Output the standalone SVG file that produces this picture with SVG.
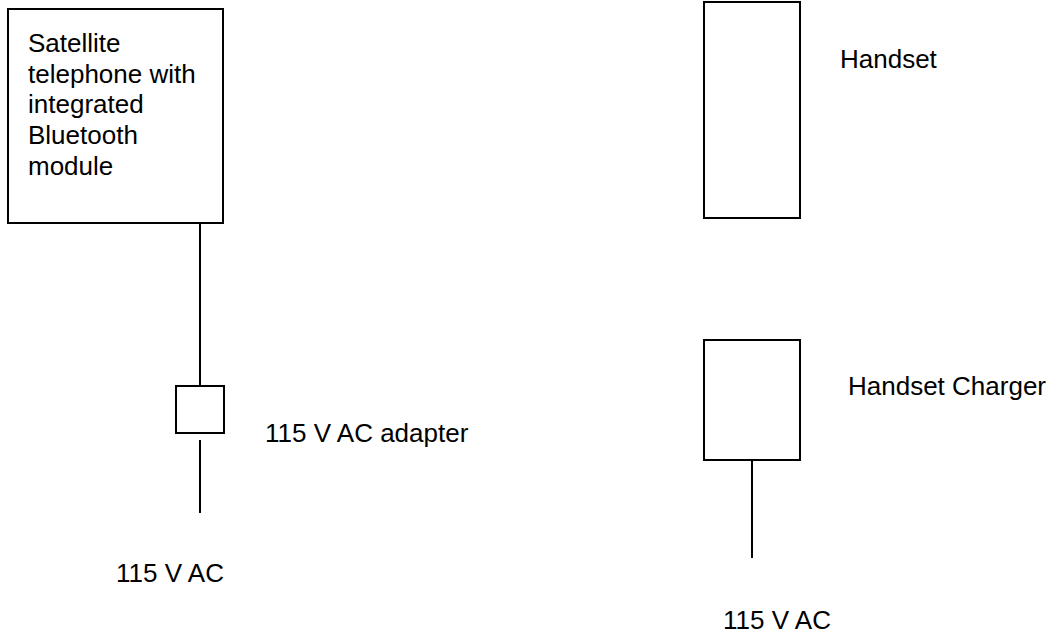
<svg xmlns="http://www.w3.org/2000/svg" width="1055" height="634" viewBox="0 0 1055 634">
<style>
.box{fill:#fff;stroke:#000;stroke-width:2}
.ln{stroke:#000;stroke-width:2;fill:none}
text{font-family:"Liberation Sans",Arial,sans-serif;font-size:26px;fill:#000}
</style>
<rect width="1055" height="634" fill="#fff"/>
<g id="connectors">
<line class="ln" x1="200" y1="223" x2="200" y2="386"/>
<line class="ln" x1="200" y1="440" x2="200" y2="513"/>
<line class="ln" x1="752" y1="460" x2="752" y2="558"/>
</g>
<g id="satphone">
<rect class="box" x="8" y="9" width="215" height="214"/>
<text x="28" y="52">Satellite</text>
<text x="28" y="82.7">telephone with</text>
<text x="28" y="113.4">integrated</text>
<text x="28" y="144">Bluetooth</text>
<text x="28" y="174.8">module</text>
</g>
<g id="adapter">
<rect class="box" x="176" y="386" width="48" height="47"/>
<text x="265" y="442">115 V AC adapter</text>
</g>
<g id="ac-left"><text x="116" y="582">115 V AC</text></g>
<g id="handset">
<rect class="box" x="704" y="2" width="96" height="216"/>
<text x="840" y="68">Handset</text>
</g>
<g id="charger">
<rect class="box" x="704" y="340" width="96" height="120"/>
<text x="848" y="395">Handset Charger</text>
</g>
<g id="ac-right"><text x="723" y="629">115 V AC</text></g>
</svg>
